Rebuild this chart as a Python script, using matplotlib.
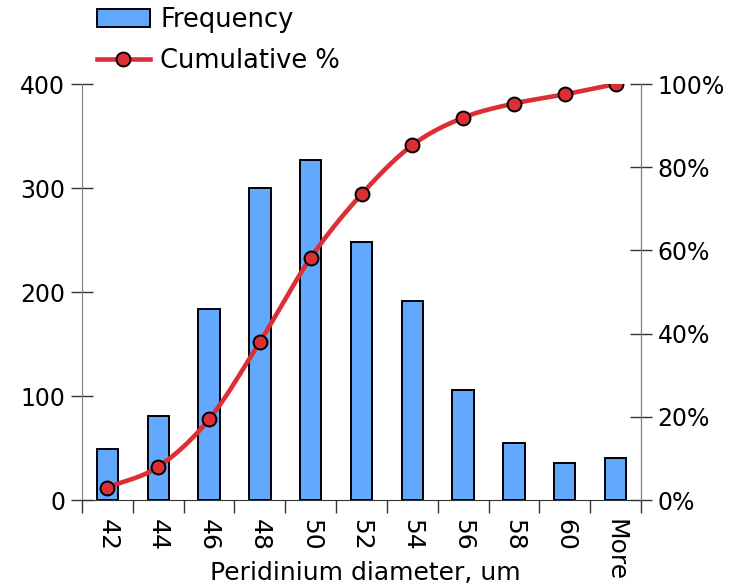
import numpy as np
import matplotlib
matplotlib.use("Agg")
import matplotlib.pyplot as plt
from matplotlib.ticker import FuncFormatter

bins = ["42", "44", "46", "48", "50", "52", "54", "56", "58", "60", "More"]
frequency = [49, 81, 184, 300, 327, 248, 191, 106, 55, 36, 40]
cumulative_pct = [3.0, 8.0, 19.4, 38.0, 58.2, 73.5, 85.3, 91.9, 95.3, 97.5, 100.0]

plt.rcParams["font.family"] = "DejaVu Sans"


def smooth(xs, ys, n=20):
    # Catmull-Rom curve through the points, like a smoothed line in a spreadsheet
    xs = np.asarray(xs, float)
    ys = np.asarray(ys, float)
    px = np.concatenate([[2 * xs[0] - xs[1]], xs, [2 * xs[-1] - xs[-2]]])
    py = np.concatenate([[2 * ys[0] - ys[1]], ys, [2 * ys[-1] - ys[-2]]])
    outx, outy = [], []
    t = np.linspace(0, 1, n)
    for i in range(1, len(px) - 2):
        for p, out in ((px, outx), (py, outy)):
            p0, p1, p2, p3 = p[i - 1], p[i], p[i + 1], p[i + 2]
            out.extend(0.5 * ((2 * p1) + (-p0 + p2) * t
                              + (2 * p0 - 5 * p1 + 4 * p2 - p3) * t ** 2
                              + (-p0 + 3 * p1 - 3 * p2 + p3) * t ** 3))
    return np.array(outx), np.array(outy)


fig = plt.figure(figsize=(7.41, 5.88), dpi=100)
ax = fig.add_axes([82 / 741, 1 - 500 / 588, 559 / 741, 416 / 588])
x = np.arange(len(bins))

bars = ax.bar(x, frequency, width=0.42, color="#62a8ff", edgecolor="black",
              linewidth=1.4, label="Frequency", zorder=2)
ax.set_xlim(-0.5, len(bins) - 0.5)
ax.set_ylim(0, 400)
ax.set_yticks([0, 100, 200, 300, 400])

ax.set_xticks(x)
ax.set_xticklabels(bins, rotation=270, fontsize=18)
ax.set_xticks(np.arange(-0.5, len(bins)), minor=True)
ax.tick_params(axis="x", which="major", length=0, pad=14)
ax.tick_params(axis="x", which="minor", length=9, width=1, direction="out", color="#333333")
ax.tick_params(axis="y", which="major", length=16, width=1, direction="inout",
               labelsize=17, pad=4, color="#333333")

ax.spines["top"].set_visible(False)
ax.spines["left"].set_color("#7f7f7f")
ax.spines["right"].set_color("#7f7f7f")
ax.spines["bottom"].set_color("#333333")

fig.text(365 / 741, 1 - 580 / 588, "Peridinium diameter, um", fontsize=18,
         ha="center", va="baseline")

ax2 = ax.twinx()
ax2.set_ylim(0, 100)
ax2.set_yticks([0, 20, 40, 60, 80, 100])
ax2.yaxis.set_major_formatter(FuncFormatter(lambda v, _: f"{v:.0f}%"))
ax2.tick_params(axis="y", length=16, width=1, direction="inout", labelsize=17,
                pad=4, color="#333333")
ax2.spines["top"].set_visible(False)
ax2.spines["left"].set_visible(False)
ax2.spines["bottom"].set_visible(False)
ax2.spines["right"].set_color("#7f7f7f")

sx, sy = smooth(x, cumulative_pct)
ax2.plot(sx, sy, color="#dd2e36", linewidth=3.3, solid_capstyle="round", zorder=3)
ax2.plot(x, cumulative_pct, linestyle="none", marker="o", markersize=10,
         markerfacecolor="#dd2e36", markeredgecolor="black", markeredgewidth=1.4, zorder=4)

legend_line = plt.Line2D([], [], color="#dd2e36", linewidth=3.3, marker="o", markersize=10,
                         markerfacecolor="#dd2e36", markeredgecolor="black", markeredgewidth=1.4)
fig.legend([bars, legend_line], ["Frequency", "Cumulative %"], loc="upper left",
           bbox_to_anchor=(97 / 741, 1 - 7 / 588), frameon=False, fontsize=18.5,
           handlelength=2.06, handleheight=0.74, handletextpad=0.4, labelspacing=0.6,
           borderpad=0, borderaxespad=0)

fig.savefig("out.png", dpi=100)
